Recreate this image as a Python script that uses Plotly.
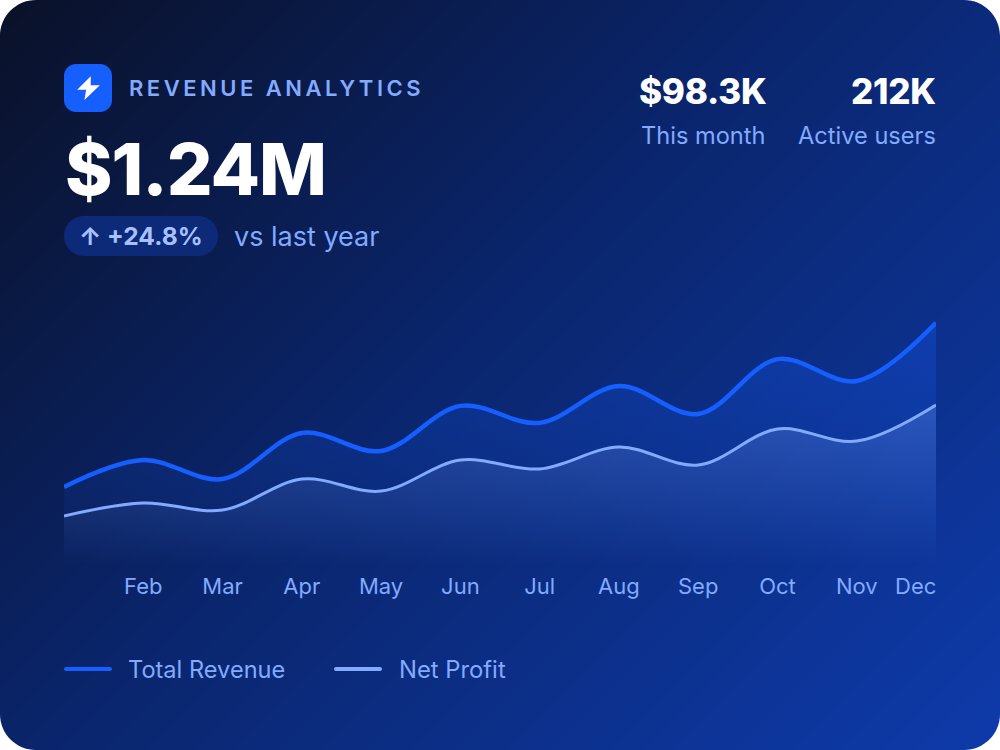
import plotly.graph_objects as go

# chart data, $K per month
months = ["Jan", "Feb", "Mar", "Apr", "May", "Jun", "Jul", "Aug", "Sep", "Oct", "Nov", "Dec"]
total_revenue = [31.7, 42.6, 34.9, 53.6, 46.3, 64.6, 57.7, 72.7, 61.3, 83.6, 74.7, 98.3]
net_profit = [19.9, 25.2, 22.3, 34.9, 30.0, 42.6, 39.0, 47.9, 40.6, 55.2, 50.3, 65.0]
tick_labels = ["Feb", "Mar", "Apr", "May", "Jun", "Jul", "Aug", "Sep", "Oct", "Nov"]

BLUE = "#155eff"
LIGHT = "#82aaff"
FONT = "Inter"


def rounded(x0, y0, x1, y1, r):
    k = r * 0.4477  # distance of bezier handle from the corner
    return (f"M{x0+r} {y0} H{x1-r} C{x1-k} {y0} {x1} {y0+k} {x1} {y0+r} V{y1-r} "
            f"C{x1} {y1-k} {x1-k} {y1} {x1-r} {y1} H{x0+r} C{x0+k} {y1} {x0} {y1-k} {x0} {y1-r} "
            f"V{y0+r} C{x0} {y0+k} {x0+k} {y0} {x0+r} {y0} Z")


def label(text, x, y, size, color=LIGHT, weight=400, anchor="left", spacing=None):
    if spacing is not None:
        text = f'<span style="letter-spacing:{spacing}px">{text}</span>'
    return dict(text=text, x=x, y=y, xref="x", yref="y", xanchor=anchor, yanchor="middle",
                showarrow=False, borderpad=0, borderwidth=0,
                font=dict(family=FONT, size=size, color=color, weight=weight))


fig = go.Figure()

# card background, diagonal gradient
fig.add_trace(go.Heatmap(x=[0, 1000], y=[0, 750], z=[[0, 0.571], [0.429, 1]],
                         zsmooth="best", showscale=False, hoverinfo="skip", zmin=0, zmax=1,
                         colorscale=[[0, "#0a1128"], [0.45, "#0a256c"], [1, "#0e3bab"]]))

fig.add_trace(go.Scatter(x=months, y=total_revenue, name="Total Revenue", xaxis="x2", yaxis="y2",
                         mode="lines", line=dict(color=BLUE, width=4.5, shape="spline", smoothing=1.0),
                         fill="tozeroy",
                         fillgradient=dict(type="vertical", start=max(total_revenue), stop=0,
                                           colorscale=[[0, "rgba(21,94,255,0.3)"], [1, "rgba(21,94,255,0)"]])))
fig.add_trace(go.Scatter(x=months, y=net_profit, name="Net Profit", xaxis="x2", yaxis="y2",
                         mode="lines", line=dict(color=LIGHT, width=3, shape="spline", smoothing=1.0),
                         fill="tozeroy",
                         fillgradient=dict(type="vertical", start=max(net_profit), stop=0,
                                           colorscale=[[0, "rgba(130,170,255,0.25)"], [1, "rgba(130,170,255,0)"]])))

shapes = [
    # white page corners outside the rounded card
    dict(type="path", path="M0 0 H1000 V750 H0 Z " + rounded(0, 0, 1000, 750, 36), xref="x", yref="y",
         fillcolor="white", line_width=0, layer="above"),
    # icon tile and bolt
    dict(type="path", path=rounded(64, 64, 112, 112, 12), xref="x", yref="y",
         fillcolor=BLUE, line_width=0, layer="above"),
    dict(type="path", path="M90 78 L79 89 H87 L85.5 98 L98 86 H90 Z", xref="x", yref="y",
         fillcolor="white", line=dict(color="white", width=1.5), layer="above"),
    # growth badge
    dict(type="path", path=rounded(64, 216, 218, 256, 20), xref="x", yref="y",
         fillcolor="#0c2a78", line_width=0, layer="above"),
    # legend keys
    dict(type="path", path=rounded(64, 667, 112, 671, 2), xref="x", yref="y",
         fillcolor=BLUE, line_width=0, layer="above"),
    dict(type="path", path=rounded(334, 667, 382, 671, 2), xref="x", yref="y",
         fillcolor=LIGHT, line_width=0, layer="above"),
]

annotations = [
    label("REVENUE ANALYTICS", 129, 88, 22, weight=600, spacing=3.5),
    label("$1.24M", 65, 168, 72, color="white", weight=850, spacing=-1),
    label("↑ +24.8%", 78.5, 236, 24.6, color="#a8c0ff", weight=700),
    label("vs last year", 233.5, 236, 27),
    label("$98.3K", 766, 91, 35, color="white", weight=800, anchor="right", spacing=-0.3),
    label("This month", 765, 135, 23.6, anchor="right"),
    label("212K", 936, 91, 35, color="white", weight=800, anchor="right", spacing=-0.3),
    label("Active users", 936, 135, 23.6, anchor="right"),
    label("Total Revenue", 128, 669, 23.6),
    label("Net Profit", 399, 669, 23.8),
    # last month label sits flush with the right edge of the plot
    dict(text=months[-1], x=months[-1], y=0, xref="x2", yref="y2", xanchor="right", yanchor="top",
         yshift=-8, showarrow=False, borderpad=0, borderwidth=0,
         font=dict(family=FONT, size=22, color=LIGHT)),
]

fig.update_layout(
    width=1000, height=750, margin=dict(l=0, r=0, t=0, b=0, pad=0),
    paper_bgcolor="white", plot_bgcolor="rgba(0,0,0,0)", showlegend=False,
    xaxis=dict(range=[0, 1000], domain=[0, 1], visible=False, fixedrange=True),
    yaxis=dict(range=[750, 0], domain=[0, 1], visible=False, fixedrange=True),
    xaxis2=dict(type="category", categoryorder="array", categoryarray=months, range=[0, 11],
                domain=[0.064, 0.936], anchor="y2", showgrid=False, zeroline=False, showline=False,
                tickmode="array", tickvals=tick_labels, ticktext=tick_labels, ticks="",
                ticklabelstandoff=6,
                tickfont=dict(family=FONT, size=22, color=LIGHT), fixedrange=True),
    yaxis2=dict(range=[0, 107.6], domain=[0.2467, 0.6], anchor="x2", visible=False, fixedrange=True),
    shapes=shapes, annotations=annotations,
)

# the page's default body margin would push the card 8px off the window
fig.write_html("out.html", config=dict(displayModeBar=False),
               post_script="document.body.style.margin='0';")
